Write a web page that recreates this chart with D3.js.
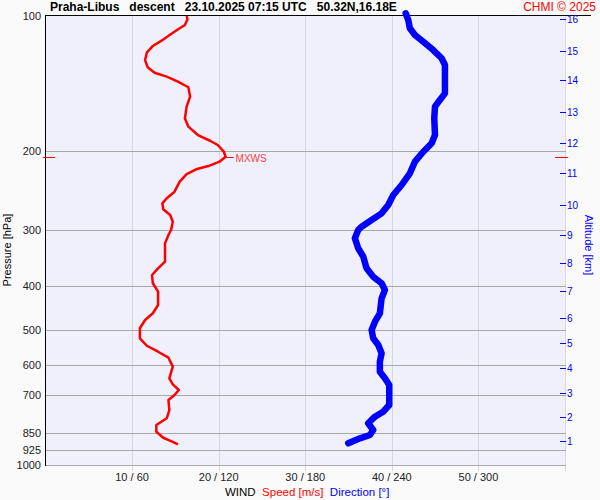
<!DOCTYPE html>
<html>
<head>
<meta charset="utf-8">
<script src="https://cdn.jsdelivr.net/npm/d3@7"></script>
<style>
  body { margin: 0; background: #fafafa; }
  svg { display: block; font-family: "Liberation Sans", Arial, sans-serif; }
</style>
</head>
<body>
<div id="chart"></div>
<script>
const WIDTH = 600;
const HEIGHT = 500;

// pressure levels with labels / grid lines
const pressureTicks = [100, 200, 300, 400, 500, 600, 700, 850, 925, 1000];
// speed grid (m/s), direction = speed * 6
const speedTicks = [10, 20, 30, 40, 50];
// altitude axis: km and the pressure where it sits
const altKm = [1, 2, 3, 4, 5, 6, 7, 8, 9, 10, 11, 12, 13, 14, 15, 16];
const altPressure = [884.4, 780.5, 690.2, 609.0, 535.8, 470.7, 409.1, 354.3, 307.9, 263.2, 224.0, 192.1, 163.3, 139.0, 119.5, 101.7];

// wind speed profile
const speedP = [100, 101.7, 104.7, 106.5, 109.7, 113.5, 116.6, 120.7, 125.3, 130.1, 133.8, 136.5, 140.0, 144.1,
  151.2, 159.2, 169.0, 176.4, 184.1, 189.6, 193.8, 200.6, 205.8, 211.1, 215.9, 219.5, 224.9, 233.9, 246.2,
  254.7, 261.3, 269.5, 277.5, 287.2, 299.7, 307.5, 320.9, 352.5, 364.7, 377.4, 393.8, 411.1, 440.2, 459.3,
  475.4, 496.0, 522.2, 542.5, 559.4, 576.8, 603.9, 641.2, 661.3, 680.8, 698.5, 716.6, 754.3, 787.1, 814.6,
  843.1, 869.6, 884.4, 899.5];
const speedV = [16.3, 16.4, 16.1, 15.5, 14.5, 13.4, 12.4, 11.7, 11.5, 11.8, 12.6, 14.0, 15.3, 16.5,
  16.7, 16.3, 16.1, 16.5, 17.6, 19.0, 19.9, 20.6, 20.8, 20.1, 18.8, 17.4, 16.3, 15.5, 14.9,
  14.0, 13.5, 13.6, 14.4, 14.7, 14.5, 14.2, 13.8, 13.8, 13.0, 12.3, 12.4, 13.0, 13.0, 12.4,
  11.5, 10.9, 10.9, 11.7, 13.0, 14.2, 14.7, 14.3, 14.7, 15.4, 14.9, 14.2, 14.3, 14.0, 12.8,
  12.8, 13.6, 14.5, 15.3];

// wind direction profile
const dirP = [98.6, 102.1, 106.5, 110.2, 114.1, 119.1, 124.2, 128.6, 148.7, 153.8, 159.2, 169.0, 184.1, 192.1,
  200.6, 211.1, 224.0, 237.9, 250.4, 263.6, 275.1, 284.7, 294.6, 299.7, 312.7, 329.1, 343.6, 364.7, 380.7,
  393.8, 407.6, 425.4, 459.3, 479.5, 500.4, 522.2, 540.5, 564.0, 588.8, 619.7, 641.2, 663.6, 698.5, 735.3,
  760.8, 780.5, 807.3, 835.7, 857.5, 872.3, 894.9];
const dirV = [249.6, 251.4, 252.5, 256.0, 261.8, 268.7, 274.5, 276.8, 276.8, 273.3, 269.9, 269.4, 269.9, 267.6,
  261.8, 256.0, 252.5, 246.8, 241.0, 237.5, 232.9, 226.0, 219.0, 216.7, 214.4, 216.7, 220.2, 222.5, 227.1,
  232.9, 235.2, 232.9, 231.7, 228.3, 226.0, 227.1, 230.6, 232.9, 231.7, 231.7, 235.2, 238.2, 238.2, 238.2,
  234.0, 228.3, 223.6, 227.1, 224.8, 217.9, 209.8];

// max wind
const mxwsP = 206.4;
const mxwsV = 20.8;

const svg = d3.select("#chart").append("svg")
    .attr("width", WIDTH)
    .attr("height", HEIGHT);

const x = d3.scaleLinear().domain([0, 60]).range([45.5, 565]);
const xDir = d3.scaleLinear().domain([0, 360]).range([45.5, 565]);
const y = d3.scaleLog().domain([100, 1000]).range([16, 465]);

// plot background
svg.append("rect")
    .attr("x", x(0)).attr("y", y(100))
    .attr("width", x(60) - x(0)).attr("height", y(1000) - y(100))
    .attr("fill", "#f0f0fc");

// vertical grid
svg.selectAll(".vgrid")
    .data(speedTicks.concat([60]))
    .enter().append("line")
    .attr("x1", d => Math.round(x(d)) + 0.5).attr("x2", d => Math.round(x(d)) + 0.5)
    .attr("y1", y(100)).attr("y2", y(1000) + 6)
    .attr("stroke", "#d8d8d8");

// horizontal grid
svg.selectAll(".hgrid")
    .data(pressureTicks.slice(1))
    .enter().append("line")
    .attr("x1", x(0)).attr("x2", x(60) + 1)
    .attr("y1", d => Math.round(y(d)) + 0.5).attr("y2", d => Math.round(y(d)) + 0.5)
    .attr("stroke", "#a8a8a8");

// left axis and top border
svg.append("line")
    .attr("x1", 45.5).attr("x2", 45.5).attr("y1", 15).attr("y2", y(1000) + 1)
    .attr("stroke", "#000");
svg.append("line")
    .attr("x1", 45).attr("x2", 591).attr("y1", 15.5).attr("y2", 15.5)
    .attr("stroke", "#000");

// pressure labels
svg.selectAll(".plab")
    .data(pressureTicks)
    .enter().append("text")
    .attr("x", 41).attr("y", d => y(d) + 4)
    .attr("text-anchor", "end")
    .attr("font-size", 11)
    .attr("fill", "#222")
    .text(d => d);

svg.append("text")
    .attr("transform", "translate(11, 250) rotate(-90)")
    .attr("text-anchor", "middle")
    .attr("font-size", 11)
    .text("Pressure [hPa]");

// bottom labels
svg.selectAll(".xlab")
    .data(speedTicks)
    .enter().append("text")
    .attr("x", d => x(d)).attr("y", 481)
    .attr("text-anchor", "middle")
    .attr("font-size", 11)
    .attr("fill", "#222")
    .text(d => d + " / " + d * 6);

const legend = svg.append("text").attr("y", 496).attr("font-size", 11.5).attr("x", 225)
    .style("white-space", "pre");
legend.append("tspan").attr("fill", "#000").text("WIND  ");
legend.append("tspan").attr("fill", "#ff0000").text("Speed [m/s]  ");
legend.append("tspan").attr("fill", "#0000ff").text("Direction [°]");

// altitude axis
const alt = svg.append("g");
alt.selectAll("line")
    .data(altKm)
    .enter().append("line")
    .attr("x1", 560).attr("x2", 566)
    .attr("y1", (d, i) => Math.round(y(altPressure[i])) + 0.5)
    .attr("y2", (d, i) => Math.round(y(altPressure[i])) + 0.5)
    .attr("stroke", "#0000ff");
alt.selectAll("text")
    .data(altKm)
    .enter().append("text")
    .attr("x", 567).attr("y", (d, i) => y(altPressure[i]) + 4)
    .attr("font-size", 10)
    .attr("fill", "#0000ff")
    .text(d => d);
svg.append("text")
    .attr("transform", "translate(585, 245) rotate(90)")
    .attr("text-anchor", "middle")
    .attr("font-size", 11)
    .attr("fill", "#0000ff")
    .text("Altitude [km]");

// direction line
const dirData = dirP.map((p, i) => ({ p: p, v: dirV[i] }));
svg.append("path")
    .datum(dirData)
    .attr("fill", "none")
    .attr("stroke", "#0000ff")
    .attr("stroke-width", 6.5)
    .attr("stroke-linecap", "round")
    .attr("stroke-linejoin", "round")
    .attr("d", d3.line().x(d => xDir(d.v)).y(d => y(d.p)));

// speed line
const speedData = speedP.map((p, i) => ({ p: p, v: speedV[i] }));
svg.append("path")
    .datum(speedData)
    .attr("fill", "none")
    .attr("stroke", "#ff0000")
    .attr("stroke-width", 2.5)
    .attr("stroke-linejoin", "round")
    .attr("d", d3.line().x(d => x(d.v)).y(d => y(d.p)));

// MXWS markers
const my = Math.round(y(mxwsP)) + 0.5;
[[43, 55], [555, 568], [x(mxwsV), x(mxwsV) + 8]].forEach(s => {
    svg.append("line")
        .attr("x1", s[0]).attr("x2", s[1]).attr("y1", my).attr("y2", my)
        .attr("stroke", "#ff0000");
});
svg.append("text")
    .attr("x", x(mxwsV) + 10).attr("y", my + 4)
    .attr("font-size", 10)
    .attr("fill", "#ff4040")
    .text("MXWS");

// title
svg.append("text")
    .attr("x", 50).attr("y", 11)
    .attr("font-size", 12).attr("font-weight", "bold")
    .style("white-space", "pre")
    .text("Praha-Libus   descent   23.10.2025 07:15 UTC   50.32N,16.18E");
svg.append("text")
    .attr("x", 596).attr("y", 11)
    .attr("text-anchor", "end")
    .attr("font-size", 12)
    .attr("fill", "#ff0000")
    .text("CHMI © 2025");
</script>
</body>
</html>
